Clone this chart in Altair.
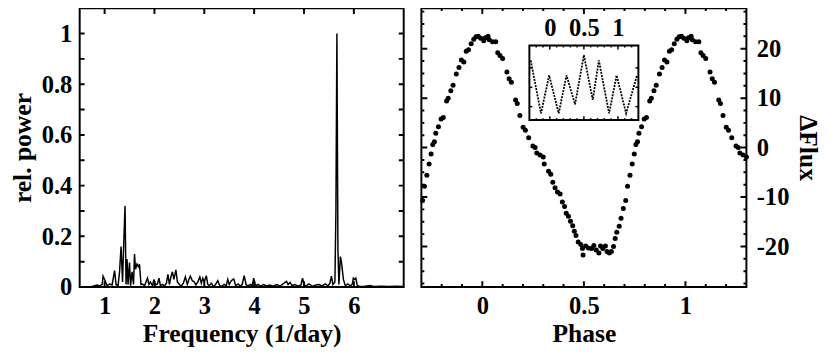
import altair as alt
import pandas as pd

# ---------------- periodogram (left panel) ----------------
freq = [0.72, 0.80, 0.85, 0.90, 0.95, 0.97, 1.00, 1.05, 1.10, 1.15,
        1.20, 1.23, 1.27, 1.30, 1.33, 1.36, 1.38, 1.41, 1.43, 1.45,
        1.47, 1.50, 1.52, 1.55, 1.58, 1.60, 1.62, 1.65, 1.68, 1.70,
        1.73, 1.76, 1.80, 1.83, 1.86, 1.89, 1.92, 1.96, 1.99, 2.02,
        2.06, 2.09, 2.12, 2.16, 2.20, 2.24, 2.27, 2.30, 2.33, 2.36,
        2.39, 2.43, 2.46, 2.50, 2.54, 2.58, 2.62, 2.66, 2.69, 2.72,
        2.76, 2.80, 2.83, 2.87, 2.91, 2.94, 2.97, 3.00, 3.04, 3.07,
        3.10, 3.14, 3.18, 3.22, 3.27, 3.31, 3.35, 3.40, 3.44, 3.47,
        3.50, 3.54, 3.59, 3.63, 3.68, 3.72, 3.76, 3.80, 3.84, 3.88,
        3.93, 3.96, 3.99, 4.03, 4.08, 4.13, 4.19, 4.25, 4.31, 4.38,
        4.45, 4.52, 4.58, 4.62, 4.65, 4.68, 4.72, 4.76, 4.82, 4.88,
        4.94, 4.97, 5.00, 5.04, 5.10, 5.17, 5.24, 5.30, 5.36, 5.43,
        5.48, 5.52, 5.55, 5.58, 5.62, 5.64, 5.66, 5.68, 5.70, 5.73,
        5.75, 5.79, 5.83, 5.88, 5.93, 5.97, 5.99, 6.02, 6.04, 6.07,
        6.12, 6.20, 6.32, 6.40, 6.55, 6.70, 6.85, 7.00]
power = [0.000, 0.005, 0.008, 0.004, 0.010, 0.043, 0.030, 0.005, 0.012, 0.008,
         0.065, 0.010, 0.005, 0.060, 0.160, 0.020, 0.150, 0.320, 0.010, 0.110,
         0.010, 0.097, 0.005, 0.060, 0.010, 0.130, 0.070, 0.090, 0.080, 0.090,
         0.010, 0.012, 0.005, 0.020, 0.035, 0.010, 0.020, 0.005, 0.030, 0.008,
         0.012, 0.035, 0.005, 0.010, 0.004, 0.015, 0.050, 0.010, 0.040, 0.060,
         0.030, 0.068, 0.020, 0.010, 0.004, 0.015, 0.040, 0.010, 0.030, 0.043,
         0.025, 0.020, 0.008, 0.020, 0.040, 0.015, 0.035, 0.020, 0.045, 0.010,
         0.005, 0.015, 0.003, 0.008, 0.025, 0.005, 0.003, 0.010, 0.005, 0.030,
         0.010, 0.025, 0.032, 0.005, 0.012, 0.004, 0.010, 0.045, 0.008, 0.005,
         0.010, 0.003, 0.035, 0.005, 0.010, 0.003, 0.010, 0.004, 0.008, 0.003,
         0.010, 0.004, 0.012, 0.018, 0.022, 0.010, 0.018, 0.005, 0.010, 0.003,
         0.008, 0.035, 0.010, 0.004, 0.012, 0.003, 0.008, 0.010, 0.004, 0.012,
         0.004, 0.015, 0.043, 0.010, 0.020, 0.300, 1.000, 0.150, 0.010, 0.120,
         0.100, 0.030, 0.005, 0.012, 0.004, 0.012, 0.035, 0.030, 0.035, 0.005,
         0.003, 0.002, 0.006, 0.002, 0.003, 0.002, 0.003, 0.002]

# ---------------- phased light curve, one cycle (right panel) ----------------
phase = [0.007, 0.015, 0.028, 0.034, 0.050, 0.066, 0.076, 0.087, 0.100, 0.121,
         0.132, 0.143, 0.164, 0.172, 0.185, 0.201, 0.212, 0.228, 0.249, 0.260,
         0.268, 0.284, 0.300, 0.305, 0.326, 0.337, 0.347, 0.358, 0.370, 0.383,
         0.394, 0.405, 0.413, 0.424, 0.434, 0.445, 0.453, 0.461, 0.472, 0.485,
         0.493, 0.496, 0.509, 0.522, 0.538, 0.549, 0.561, 0.574, 0.582, 0.593,
         0.606, 0.614, 0.625, 0.635, 0.646, 0.654, 0.662, 0.674, 0.683, 0.694,
         0.706, 0.715, 0.727, 0.738, 0.748, 0.756, 0.764, 0.771, 0.784, 0.797,
         0.808, 0.824, 0.832, 0.845, 0.856, 0.872, 0.885, 0.897, 0.909, 0.921,
         0.932, 0.945, 0.958, 0.969, 0.980, 0.992]
flux = [21.6, 22.2, 22.5, 21.8, 21.4, 21.4, 19.2, 18.6, 18.0, 15.3,
        13.9, 13.2, 9.6, 8.9, 6.5, 4.1, 3.5, 2.0, 0.3, 0.0,
        -1.1, -1.5, -1.9, -3.3, -4.8, -5.4, -7.0, -8.1, -9.0, -9.4,
        -11.0, -11.9, -13.3, -13.9, -14.9, -15.8, -16.9, -17.8, -19.1, -19.6,
        -20.4, -21.7, -19.9, -20.3, -20.4, -19.8, -20.7, -21.3, -19.9, -20.4,
        -19.9, -21.0, -21.3, -21.0, -20.0, -18.4, -17.1, -15.9, -14.3, -12.3,
        -10.7, -7.8, -5.6, -3.3, -1.3, 0.6, 1.2, 2.9, 4.2, 5.8,
        6.1, 9.4, 10.0, 11.5, 12.6, 14.9, 16.2, 17.7, 17.3, 19.5,
        19.8, 21.0, 21.9, 22.4, 22.5, 22.1]

# ---------------- inset ----------------
inset_phase = [-0.28, -0.13, -0.01, 0.13, 0.245, 0.37, 0.50, 0.63, 0.72, 0.87, 0.98, 1.12, 1.28]
inset_level = [0.80, 0.09, 0.60, 0.09, 0.60, 0.21, 0.87, 0.27, 0.80, 0.09, 0.60, 0.09, 0.60]

# ---------------- tick values ----------------
freq_ticks = [1, 2, 3, 4, 5, 6]
power_ticks = [0.1, 0.2, 0.3, 0.4, 0.5, 0.6, 0.7, 0.8, 0.9, 1.0]
power_labels = [0, 0.2, 0.4, 0.6, 0.8, 1.0]
phase_major = [0, 0.5, 1]
phase_minor = [-0.2, -0.1, 0.1, 0.2, 0.3, 0.4, 0.6, 0.7, 0.8, 0.9, 1.1, 1.2]
flux_major = [-20, -10, 0, 10, 20]
flux_minor = [-27.5, -25, -22.5, -17.5, -15, -12.5, -7.5, -5, -2.5,
              2.5, 5, 7.5, 12.5, 15, 17.5, 22.5, 25, 27.5]
inset_major = [0, 0.5, 1]
inset_minor = [-0.2, -0.1, 0.1, 0.2, 0.3, 0.4, 0.6, 0.7, 0.8, 0.9, 1.1, 1.2]
inset_yticks = [0.18, 0.44, 0.70]

FONT = "Liberation Serif"
LFS = 25   # tick label size
TFS = 26   # axis title size
LW, RW, H = 330, 331, 284
IX0, IX1, IY0, IY1 = 110, 221, 38, 114   # inset box inside the right panel (px)

F_DOM, P_DOM = [0.5, 7], [0, 1.1]
PH_DOM, FL_DOM = [-0.3, 1.3], [-28.2, 28.2]
IX_DOM, IY_DOM = [-0.3, 1.3], [0, 1]


def edge_ticks(values, along, edge, length, sx, sy, width=2):
    """Inward frame ticks: tick marks centred on a frame edge, clipped to the plot area."""
    orient = "vertical" if along == "x" else "horizontal"
    base = alt.Chart(pd.DataFrame({"v": values})).mark_tick(
        orient=orient, size=2 * length, thickness=width, color="black", opacity=1, clip=True)
    if along == "x":
        return base.encode(x=alt.X("v:Q", scale=sx, axis=None),
                           y=alt.Y(datum=edge, type="quantitative", scale=sy, axis=None))
    return base.encode(y=alt.Y("v:Q", scale=sy, axis=None),
                       x=alt.X(datum=edge, type="quantitative", scale=sx, axis=None))


def label_axis(orient, values, title, pad, tpad=0, **kw):
    return alt.Axis(orient=orient, values=values, title=title, domain=False, grid=False,
                    ticks=False, labelPadding=pad, titlePadding=tpad,
                    labelFlush=False, labelOverlap=False, **kw)


# ================= left panel =================
pg = pd.DataFrame({"freq": freq, "power": power})
fx = alt.Scale(domain=F_DOM, nice=False, zero=False)
fy = alt.Scale(domain=P_DOM, nice=False, zero=False)

left_main = alt.Chart(pg).mark_line(color="black", strokeWidth=1.5).encode(
    x=alt.X("freq:Q", scale=fx,
            axis=label_axis("bottom", freq_ticks, "Frequency (1/day)", 7, 3, format="d")),
    y=alt.Y("power:Q", scale=fy,
            axis=label_axis("left", power_labels, "rel. power", 8, 6,
                            labelExpr="format(datum.value, '.1~f')")),
)
left = (alt.layer(
            left_main,
            edge_ticks(freq_ticks, "x", P_DOM[0], 6, fx, fy),
            edge_ticks(freq_ticks, "x", P_DOM[1], 6, fx, fy),
            edge_ticks(power_ticks, "y", F_DOM[0], 5, fx, fy),
            edge_ticks(power_ticks, "y", F_DOM[1], 5, fx, fy))
        .resolve_axis(x="independent", y="independent")
        .properties(width=LW, height=H))

# ================= right panel =================
lc = pd.DataFrame({"phase": phase, "flux": flux})
lc_all = pd.concat([
    lc[lc.phase >= 0.7].assign(phase=lambda d: d.phase - 1),
    lc,
    lc[lc.phase <= 0.3].assign(phase=lambda d: d.phase + 1),
])
px = alt.Scale(domain=PH_DOM, nice=False, zero=False)
py = alt.Scale(domain=FL_DOM, nice=False, zero=False)

right_points = alt.Chart(lc_all).mark_circle(size=26, color="black", opacity=1).encode(
    x=alt.X("phase:Q", scale=px,
            axis=label_axis("bottom", phase_major, "Phase", 7, 3, format="~g")),
    y=alt.Y("flux:Q", scale=py,
            axis=label_axis("right", flux_major, "ΔFlux", 10, 6,
                            labelExpr="(datum.value < 0 ? '-' : '') + abs(datum.value)")),
)
right_main = alt.layer(
    right_points,
    edge_ticks(phase_major, "x", FL_DOM[0], 6, px, py),
    edge_ticks(phase_minor, "x", FL_DOM[0], 3, px, py),
    edge_ticks(phase_major, "x", FL_DOM[1], 6, px, py),
    edge_ticks(phase_minor, "x", FL_DOM[1], 3, px, py),
    edge_ticks(flux_major, "y", PH_DOM[0], 6, px, py),
    edge_ticks(flux_minor, "y", PH_DOM[0], 3, px, py),
    edge_ticks(flux_major, "y", PH_DOM[1], 6, px, py),
    edge_ticks(flux_minor, "y", PH_DOM[1], 3, px, py),
).resolve_axis(x="independent", y="independent")

# ---- inset (own scales placed inside the right panel) ----
ins = pd.DataFrame({"p": inset_phase, "v": inset_level})
ix = alt.Scale(domain=IX_DOM, range=[IX0, IX1], nice=False, zero=False)
iy = alt.Scale(domain=IY_DOM, range=[IY1, IY0], nice=False, zero=False)
# tick lengths converted to inset data units
ky = (IY_DOM[1] - IY_DOM[0]) / (IY1 - IY0)
kx = (IX_DOM[1] - IX_DOM[0]) / (IX1 - IX0)

inset_frame = alt.Chart(pd.DataFrame({"a": [0]})).mark_rect(
    fill="white", stroke="black", strokeWidth=2).encode(
    x=alt.X(datum=IX_DOM[0], type="quantitative", scale=ix, axis=None),
    x2=alt.X2(datum=IX_DOM[1]),
    y=alt.Y(datum=IY_DOM[0], type="quantitative", scale=iy, axis=None),
    y2=alt.Y2(datum=IY_DOM[1]),
)
inset_line = alt.Chart(ins).mark_line(color="black", strokeWidth=1.8, strokeDash=[2, 1.2]).encode(
    x=alt.X("p:Q", scale=ix,
            axis=alt.Axis(orient="top", values=inset_major, title=None, domain=False,
                          grid=False, ticks=False, labelPadding=5, format="~g",
                          labelFlush=False, offset=-IY0)),
    y=alt.Y("v:Q", scale=iy, axis=None),
)


def inset_xticks(values, edge, length):
    sign = 1 if edge == IY_DOM[0] else -1
    return alt.Chart(pd.DataFrame({"v": values})).mark_rule(color="black", strokeWidth=1.5).encode(
        x=alt.X("v:Q", scale=ix, axis=None),
        y=alt.Y(datum=edge, type="quantitative", scale=iy, axis=None),
        y2=alt.Y2(datum=edge + sign * length * ky))


def inset_yticks_layer(values, edge, length):
    sign = 1 if edge == IX_DOM[0] else -1
    return alt.Chart(pd.DataFrame({"v": values})).mark_rule(color="black", strokeWidth=1.5).encode(
        y=alt.Y("v:Q", scale=iy, axis=None),
        x=alt.X(datum=edge, type="quantitative", scale=ix, axis=None),
        x2=alt.X2(datum=edge + sign * length * kx))


inset = alt.layer(
    inset_frame, inset_line,
    inset_xticks(inset_major, IY_DOM[1], 4),
    inset_xticks(inset_minor, IY_DOM[1], 2),
    inset_xticks(inset_major, IY_DOM[0], 4),
    inset_xticks(inset_minor, IY_DOM[0], 2),
    inset_yticks_layer(inset_yticks, IX_DOM[0], 3),
    inset_yticks_layer(inset_yticks, IX_DOM[1], 3),
).resolve_axis(x="independent", y="independent")

right = (alt.layer(right_main, inset)
         .resolve_scale(x="independent", y="independent")
         .resolve_axis(x="independent", y="independent")
         .properties(width=RW, height=H))

chart = (alt.hconcat(left, right, spacing=11)
         .properties(padding={"left": 0, "top": -4, "right": 0, "bottom": 0})
         .configure_axis(labelFont=FONT, labelFontWeight="bold", labelFontSize=LFS,
                         labelColor="black", titleFont=FONT, titleFontWeight="bold",
                         titleFontSize=TFS, titleColor="black")
         .configure_view(stroke="black", strokeWidth=2))

chart.save("out.html", embed_options={"renderer": "svg", "actions": False})
